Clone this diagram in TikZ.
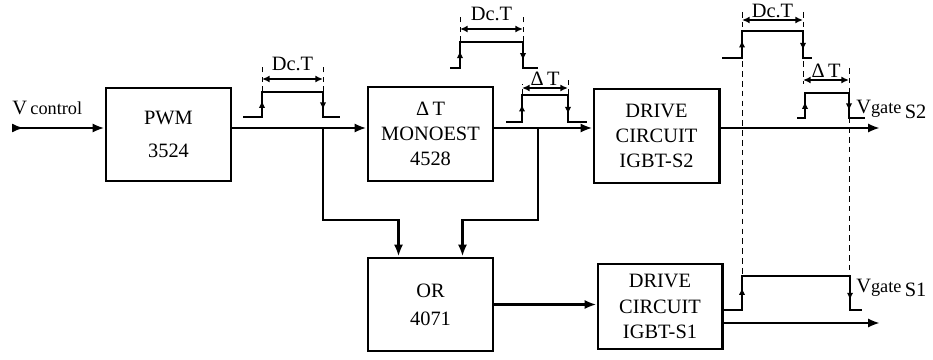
\documentclass[tikz,border=0pt]{standalone}
\usepackage{fontspec}
\setmainfont{Liberation Serif}
\usepackage{tikz}
\usetikzlibrary{arrows.meta, calc}

% one pulse: x start, x rise, x fall, x end, y low, y high
\newcommand{\sigpulse}[6]{%
  \draw[pulse] (#1,#5) -- (#2,#5) -- (#2,#6) -- (#3,#6) -- (#3,#5) -- (#4,#5);
  \draw[tick] (#2,#5) -- (#2,{#5+0.65*(#6-#5)});
  \draw[tick] (#3,#6) -- (#3,{#6+0.7*(#5-#6)});
}

\begin{document}
\begin{tikzpicture}[x=0.025cm, y=-0.025cm,
    blk/.style={draw, line width=2.1pt, minimum width=3.125cm, align=center, inner sep=0pt, font=\fontsize{14.5}{18}\selectfont},
    sig/.style={line width=2.1pt},
    wire/.style={sig, -{Latex[length=8.5pt,width=6.5pt]}},
    pulse/.style={line width=2pt},
    tick/.style={line width=0.8pt, -{Latex[length=5pt,width=4.5pt]}},
    span/.style={line width=1.3pt, {Latex[length=5.5pt,width=5pt]}-{Latex[length=5.5pt,width=5pt]}},
    guide/.style={line width=0.4pt, dash pattern=on 4pt off 3pt},
    lbl/.style={font=\fontsize{14.5}{16}\selectfont, inner sep=0pt}]
        \useasboundingbox (0,0) rectangle (933,360);

        % Components
        \node (pwm) [blk, minimum height=2.325cm] at (168.5,134.5) {PWM\\[5pt]3524};
        \node (mono) [blk, minimum height=2.35cm] at (430.5,134) {Δ\,T\\MONOEST\\4528};
        \node (drv2) [blk, minimum height=2.35cm] at (656.5,136) {DRIVE\\CIRCUIT\\IGBT-S2};
        \node (or) [blk, minimum height=2.325cm] at (430.5,304.5) {OR\\[2pt]4071};
        \node (drv1) [blk, minimum width=3.1cm, minimum height=2.125cm] at (660,306.5) {DRIVE\\CIRCUIT\\IGBT-S1};

        \coordinate (vin) at (12,128);
        \coordinate (b1) at (323,128);
        \coordinate (b2) at (538,128);
        \coordinate (out2) at (880,128);
        \coordinate (out1) at (880,323);

        % Arrows
        \draw[sig, {Latex[length=8.5pt,width=6.5pt,reversed]}-{Latex[length=8.5pt,width=6.5pt]}] (vin) -- (vin -| pwm.west);
        \draw[wire] (pwm.east |- vin) -- (mono.west |- vin);
        \draw[wire] (mono.east |- vin) -- (drv2.west |- vin);
        \draw[wire] (drv2.east |- out2) -- (out2);
        \draw[wire] (b1) -- ++(0,92) -| ($(or.north west)!0.25!(or.north east)$);
        \draw[wire] (b2) -- ++(0,92) -| ($(or.north west)!0.75!(or.north east)$);
        \draw[wire] (or.east) -- (or.east -| drv1.west);
        \draw[wire] (drv1.east |- out1) -- (out1);

        % Labels
        \node (vctl) [lbl, anchor=base west] at (12,115) {V\,{\fontsize{13}{15}\selectfont control}};
        \node (vg2) [lbl, anchor=base west] at (856,114) {V{\fontsize{13}{15}\selectfont gate}\,\raisebox{-3pt}{S2}};
        \node (vg1) [lbl, anchor=base west] at (856,292) {V{\fontsize{13}{15}\selectfont gate}\,\raisebox{-3pt}{S1}};

        % Pulses
        \sigpulse{243}{262}{323}{340}{117}{92}
        \draw[guide] (262,92) -- (262,66) (323,92) -- (323,66);
        \draw[span] (262,79) -- node[lbl, above=5pt] {Dc.T} (323,79);

        \sigpulse{450}{460}{523}{538}{68}{42}
        \draw[guide] (460,42) -- (460,14) (523,42) -- (523,14);
        \draw[span] (460,29) -- node[lbl, above=5pt] {Dc.T} (523,29);

        \sigpulse{506}{522}{568}{587}{122}{95}
        \draw[guide] (522,95) -- (522,84) (568,95) -- (568,78);
        \draw[span] (522,88) -- node[lbl, above=1pt] {Δ\,T} (568,88);

        \sigpulse{722}{742}{803}{812}{58}{31}
        \draw[guide] (742,12) -- (742,276) (803,12) -- (803,84);
        \draw[span] (742,20) -- node[lbl, above=1pt] {Dc.T} (803,20);

        \sigpulse{797}{805}{849}{865}{118}{93}
        \draw[guide] (849,68) -- (849,276);
        \draw[span] (803,80) -- node[lbl, above=1pt] {Δ\,T} (849,80);

        \sigpulse{722}{742}{850}{862}{310}{276}
\end{tikzpicture}
\end{document}
